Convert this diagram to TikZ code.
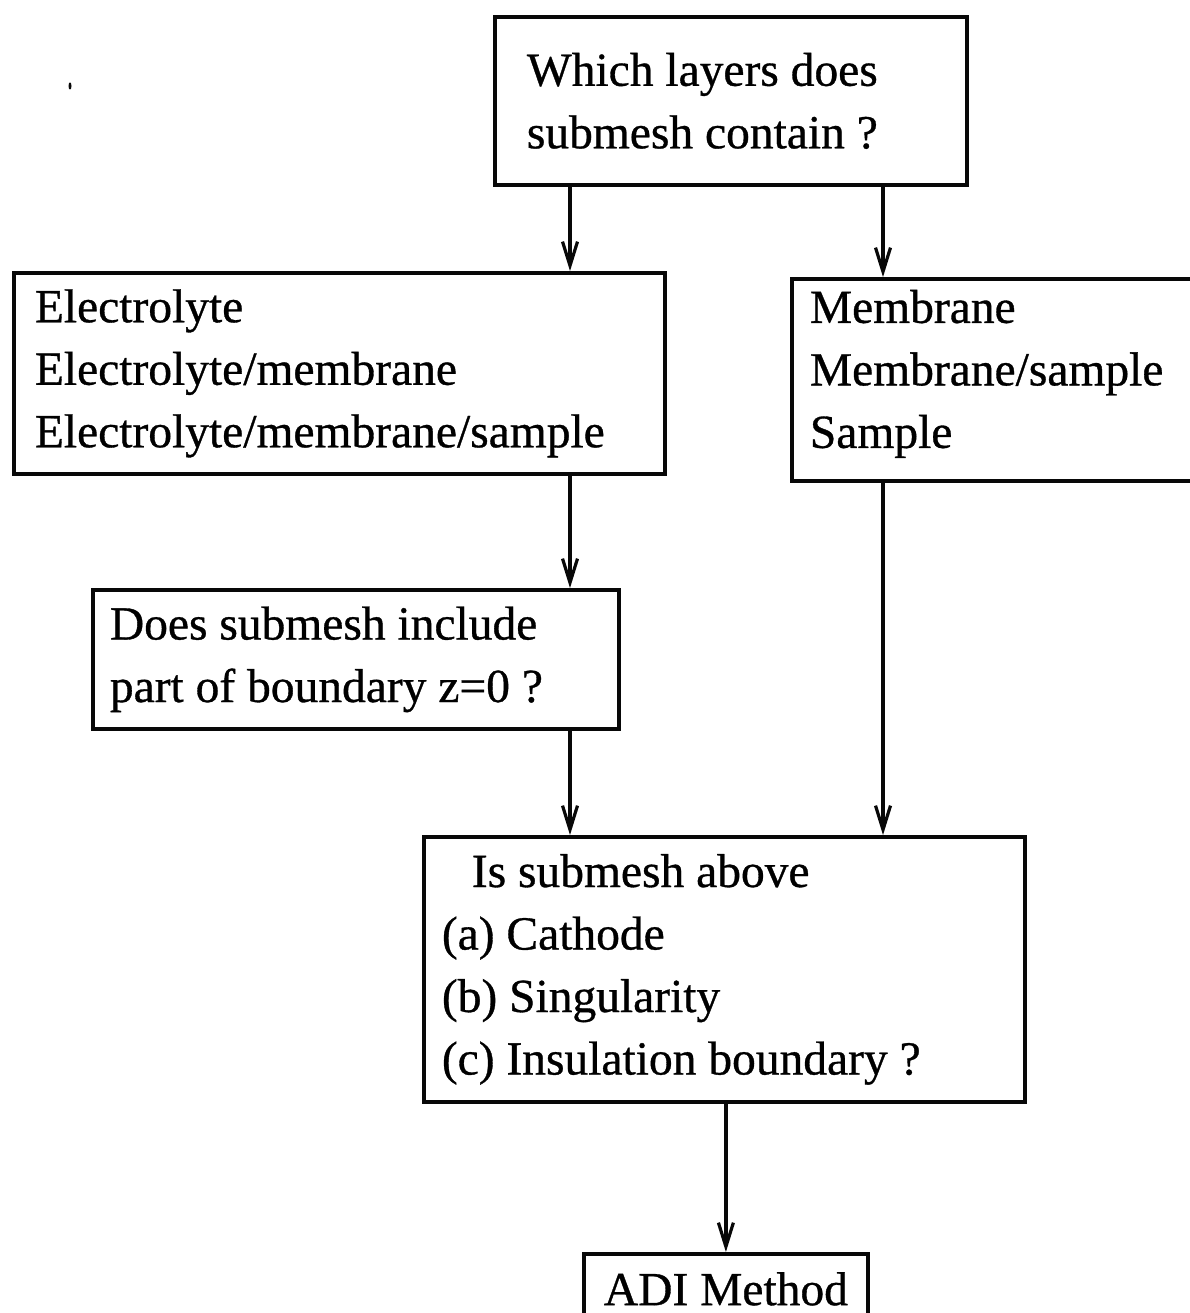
\documentclass[tikz,border=0pt]{standalone}
\usepackage{fontspec}
\setmainfont{Liberation Serif}[FakeBold=0.7]
\usepackage{tikz}
\usetikzlibrary{
  positioning,
  arrows.meta
}
\definecolor{inkcolor}{RGB}{8,8,8}
\tikzset{
  flowbox/.style={
    draw=inkcolor, line width=3.8pt, rectangle, anchor=north west,
    inner ysep=0pt, align=flush left,
    font=\fontsize{47.5}{62.5}\selectfont
  },
  flowarrow/.style={
    -{Straight Barb[length=24pt, width=15pt]}, line width=3.2pt, draw=inkcolor
  }
}

\begin{document}
\begin{tikzpicture}[x=1pt, y=-1pt]
    \useasboundingbox (0,0) rectangle (1189,1313);

    % stray speck on the scan
    \fill[inkcolor] (70,86) ellipse (1.5 and 3.5);

    \node[flowbox, minimum width=472pt, minimum height=168pt, inner xsep=32pt, text width=408pt] (layerq) at (493,15) {Which layers does\\submesh contain ?};

    \node[flowbox, minimum width=651pt, minimum height=201pt, inner xsep=21pt, text width=609pt] (elec) at (12,271) {Electrolyte\\Electrolyte/membrane\\Electrolyte/membrane/sample};
    \node[flowbox, minimum width=435pt, minimum height=202pt, inner xsep=18pt, text width=399pt] (memb) at (790,277) {Membrane\\Membrane/sample\\Sample\rule[-22pt]{0pt}{1pt}};

    \node[flowbox, minimum width=526pt, minimum height=139pt, inner xsep=17pt, text width=492pt] (bndq) at (91,588) {Does submesh include\\part of boundary z=0 ?};

    \node[flowbox, minimum width=601pt, minimum height=265pt, inner xsep=18pt, text width=565pt] (aboveq) at (422,835) {\hspace*{30pt}Is submesh above\\(a) Cathode\\(b) Singularity\\(c) Insulation boundary ?};

    \node[flowbox, align=flush center, minimum width=284pt, minimum height=70pt] (adi) at (582,1252) {ADI Method};

    \coordinate (leftlane) at (570,0);
    \coordinate (rightlane) at (883,0);

    \draw[flowarrow] (layerq.south -| leftlane) -- (elec.north -| leftlane);
    \draw[flowarrow] (layerq.south -| rightlane) -- (memb.north -| rightlane);
    \draw[flowarrow] (elec.south -| leftlane) -- (bndq.north -| leftlane);
    \draw[flowarrow] (bndq.south -| leftlane) -- (aboveq.north -| leftlane);
    \draw[flowarrow] (memb.south -| rightlane) -- (aboveq.north -| rightlane);
    \draw[flowarrow] (aboveq.south -| adi.north) -- (adi.north);

\end{tikzpicture}
\end{document}
